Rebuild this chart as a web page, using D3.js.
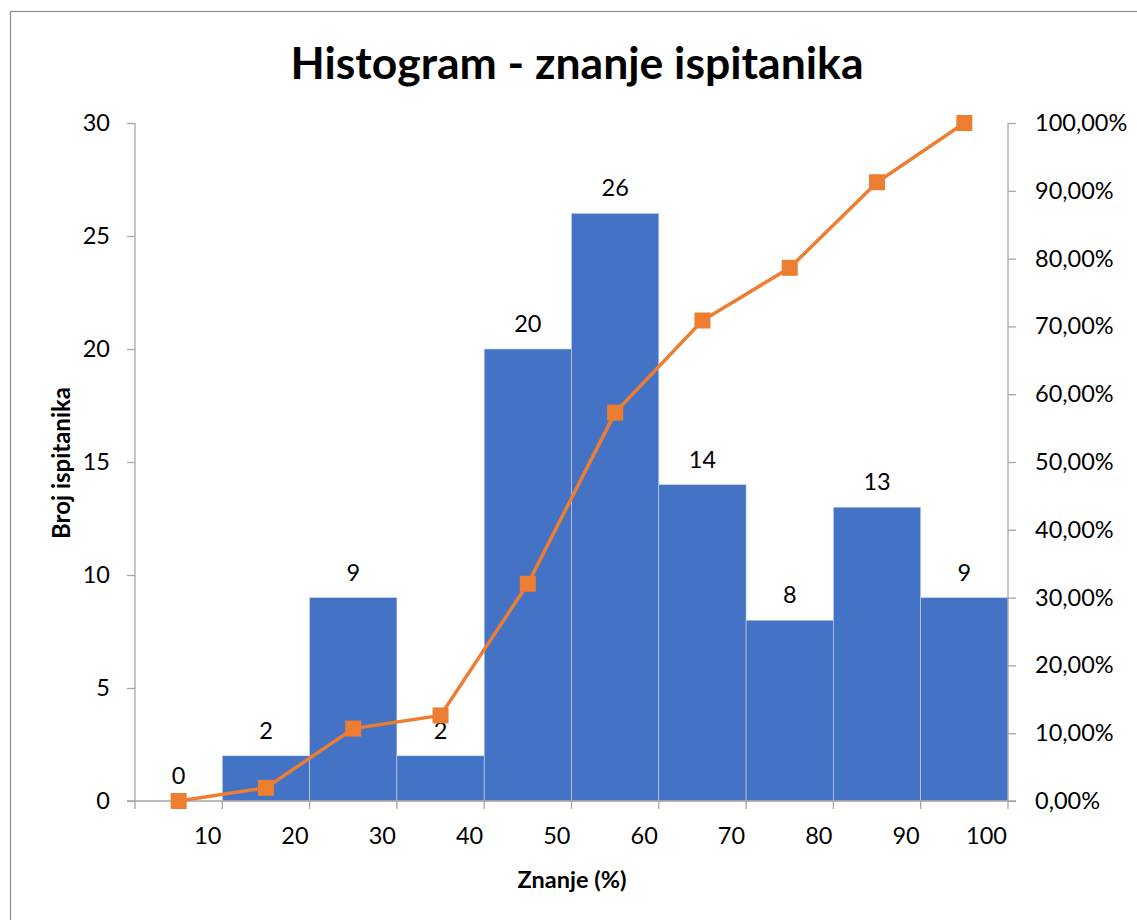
<!DOCTYPE html>
<html>
<head>
<meta charset="utf-8">
<script src="https://cdn.jsdelivr.net/npm/d3@7"></script>
<style>
  html, body { margin: 0; padding: 0; background: #fff; }
  svg { display: block; }
  text { font-family: Lato, "Open Sans", sans-serif; fill: #000; }
</style>
</head>
<body>
<svg id="chart" width="1137" height="920"></svg>
<script>
// ---- data ----
const categories = ["10", "20", "30", "40", "50", "60", "70", "80", "90", "100"];
const counts = [0, 2, 9, 2, 20, 26, 14, 8, 13, 9];
const cumulativePct = [0, 1.94, 10.68, 12.62, 32.04, 57.28, 70.87, 78.64, 91.26, 100];
const leftTicks = [0, 5, 10, 15, 20, 25, 30];
const rightTicks = [0, 10, 20, 30, 40, 50, 60, 70, 80, 90, 100];
const title = "Histogram - znanje ispitanika";
const xTitle = "Znanje (%)";
const yTitle = "Broj ispitanika";

// ---- layout ----
const svg = d3.select("#chart");
const L = 135, R = 1008, T = 123, B = 801;
const axisColor = "#A6A6A6";
const barColor = "#4472C4";
const lineColor = "#ED7D31";
const fs = 23.5;

// frame
svg.append("rect").attr("x", 10.5).attr("y", 11.5).attr("width", 1140).attr("height", 920)
  .attr("fill", "none").attr("stroke", "#8c8c8c").attr("stroke-width", 1.2);

const x = d3.scaleBand().domain(categories).range([L, R]).padding(0);
const y = d3.scaleLinear().domain([0, 30]).range([B, T]);
const y2 = d3.scaleLinear().domain([0, 100]).range([B, T]);

// bars
svg.append("g").selectAll("rect").data(counts).join("rect")
  .attr("x", (d, i) => x(categories[i]))
  .attr("y", d => y(d))
  .attr("width", x.bandwidth())
  .attr("height", d => B - y(d))
  .attr("fill", barColor)
  .attr("stroke", "#c9d6ee")
  .attr("stroke-width", 0.6);

// left axis
const gL = svg.append("g").attr("transform", `translate(${L},0)`)
  .call(d3.axisLeft(y).tickValues(leftTicks).tickSize(8).tickPadding(17).tickFormat(d3.format("d")));
// right axis
const gR = svg.append("g").attr("transform", `translate(${R},0)`)
  .call(d3.axisRight(y2).tickValues(rightTicks).tickSize(8).tickPadding(19)
    .tickFormat(d => d.toFixed(2).replace(".", ",") + "%"));
// bottom axis: ticks at bin boundaries, labels right-aligned at right boundary
const boundaries = d3.range(categories.length + 1).map(i => L + i * x.bandwidth());
const gB = svg.append("g");
gB.append("line").attr("x1", L - 8).attr("x2", R + 8).attr("y1", B).attr("y2", B)
  .attr("stroke", axisColor).attr("stroke-width", 1.3);
gB.selectAll("line.tk").data(boundaries).join("line").attr("class", "tk")
  .attr("x1", d => d).attr("x2", d => d).attr("y1", B).attr("y2", B + 8)
  .attr("stroke", axisColor).attr("stroke-width", 1.3);
gB.selectAll("text").data(categories).join("text")
  .attr("x", (d, i) => x(d) + x.bandwidth() - 1)
  .attr("y", 844)
  .attr("text-anchor", "end")
  .attr("font-size", fs)
  .text(d => d);

[gL, gR].forEach(g => {
  g.select(".domain").attr("stroke", axisColor).attr("stroke-width", 1.3);
  g.selectAll(".tick line").attr("stroke", axisColor).attr("stroke-width", 1.3);
  g.selectAll(".tick text").attr("font-size", fs).attr("font-family", "Lato, sans-serif").attr("fill", "#000");
});
gL.select(".domain").attr("d", `M0,${T}V${B}`);
gR.select(".domain").attr("d", `M0,${T}V${B}`);

// data labels
svg.append("g").selectAll("text").data(counts).join("text")
  .attr("x", (d, i) => x(categories[i]) + x.bandwidth() / 2)
  .attr("y", d => y(d) - 17)
  .attr("text-anchor", "middle")
  .attr("font-size", fs)
  .text(d => d);

// cumulative line
const cx = i => x(categories[i]) + x.bandwidth() / 2;
svg.append("path").datum(cumulativePct)
  .attr("d", d3.line().x((d, i) => cx(i)).y(d => y2(d)))
  .attr("fill", "none").attr("stroke", lineColor).attr("stroke-width", 3.5);
svg.append("g").selectAll("rect").data(cumulativePct).join("rect")
  .attr("x", (d, i) => cx(i) - 8)
  .attr("y", d => y2(d) - 8)
  .attr("width", 16).attr("height", 16)
  .attr("fill", lineColor);

// titles
svg.append("text").attr("x", 577).attr("y", 79).attr("text-anchor", "middle")
  .attr("font-size", 44.5).attr("font-weight", "bold").text(title);
svg.append("text").attr("x", 572).attr("y", 888).attr("text-anchor", "middle")
  .attr("font-size", 23.5).attr("font-weight", "bold").text(xTitle);
svg.append("text").attr("transform", "translate(70,463) rotate(-90)").attr("text-anchor", "middle")
  .attr("font-size", 24).attr("font-weight", "bold").text(yTitle);
</script>
</body>
</html>
